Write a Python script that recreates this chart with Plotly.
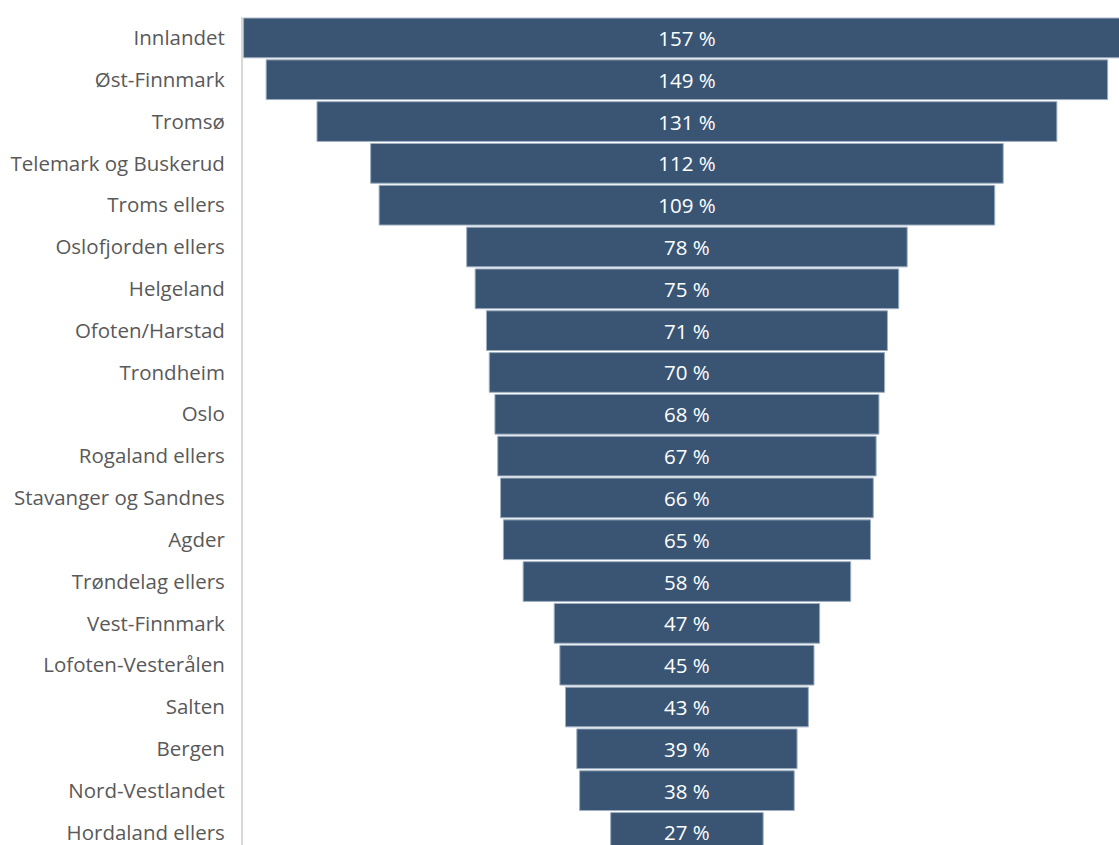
import plotly.graph_objects as go

regions = [
    "Innlandet", "Øst-Finnmark", "Tromsø", "Telemark og Buskerud", "Troms ellers",
    "Oslofjorden ellers", "Helgeland", "Ofoten/Harstad", "Trondheim", "Oslo",
    "Rogaland ellers", "Stavanger og Sandnes", "Agder", "Trøndelag ellers",
    "Vest-Finnmark", "Lofoten-Vesterålen", "Salten", "Bergen", "Nord-Vestlandet",
    "Hordaland ellers",
]
percent = [157, 149, 131, 112, 109, 78, 75, 71, 70, 68, 67, 66, 65, 58, 47, 45, 43, 39, 38, 27]

fig = go.Figure(go.Funnel(
    y=regions,
    x=percent,
    text=[f"{v} %" for v in percent],
    textinfo="text",
    textposition="inside",
    insidetextanchor="middle",
    textfont=dict(family="Open Sans", size=20.5, color="white"),
    marker=dict(color="#3a5574", line=dict(color="#9fb0c2", width=1)),
    connector=dict(visible=False),
    hoverinfo="y+x",
    cliponaxis=True,
))

fig.update_layout(
    width=1119,
    height=845,
    margin=dict(l=243, r=0, t=17, b=0),
    paper_bgcolor="white",
    plot_bgcolor="white",
    showlegend=False,
    funnelgap=0.05,
    xaxis=dict(range=[-78.6, 76.5], visible=False, fixedrange=True),
    yaxis=dict(
        range=[19.3, -0.5],
        showline=True,
        linecolor="#d9d9d9",
        linewidth=2,
        ticks="",
        ticklabelstandoff=12,
        tickfont=dict(family="Open Sans", size=20.5, color="#595959"),
        showgrid=False,
        fixedrange=True,
    ),
)

fig.write_html("out.html", config={"displayModeBar": False})
